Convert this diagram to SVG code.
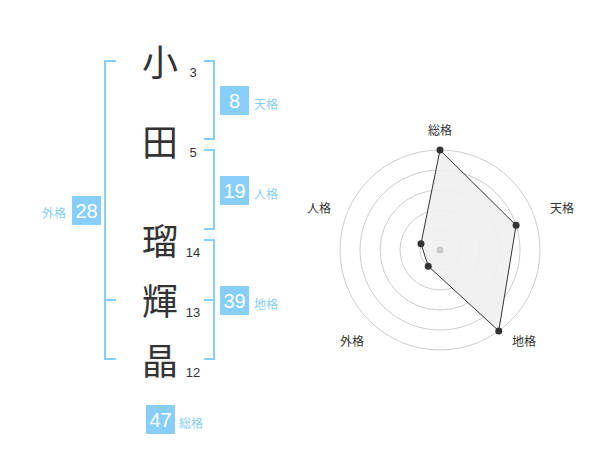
<svg xmlns="http://www.w3.org/2000/svg" width="600" height="470" viewBox="0 0 600 470">
<style>
.ch{font-family:"Noto Sans CJK JP","Noto Sans CJK SC",sans-serif;font-size:36px;fill:#333;text-anchor:middle}
.num{font-family:"Liberation Sans",Arial,sans-serif;font-size:13px;fill:#333;text-anchor:middle}
.br{fill:none;stroke:#87CEFA;stroke-width:2}
.box{fill:#87CEFA}
.bn{font-family:"Liberation Sans",Arial,sans-serif;font-size:20px;fill:#fff;text-anchor:middle}
.lb{font-family:"Noto Sans CJK JP","Noto Sans CJK SC",sans-serif;font-size:12px;fill:#87CEFA}
.rl{font-family:"Noto Sans CJK JP","Noto Sans CJK SC",sans-serif;font-size:12px;fill:#333;text-anchor:middle}
.ring{fill:none;stroke:#ccc;stroke-width:1}
.dot{fill:#333}
</style>
<rect width="600" height="470" fill="#fff"/>
<g id="chars">
<g id="c1"><text class="ch" x="160" y="76">小</text><text class="num" x="193" y="77">3</text></g>
<g id="c2"><text class="ch" x="160" y="156">田</text><text class="num" x="193" y="157">5</text></g>
<g id="c3"><text class="ch" x="160" y="255">瑠</text><text class="num" x="193" y="257">14</text></g>
<g id="c4"><text class="ch" x="160" y="315">輝</text><text class="num" x="193" y="317">13</text></g>
<g id="c5"><text class="ch" x="160" y="375">晶</text><text class="num" x="193" y="377">12</text></g>
</g>
<g id="connectors">
<path class="br" d="M116,61 H105 V359 H116 M105,300 H116"/>
<path class="br" d="M204,61 H214 V139 H204"/>
<path class="br" d="M204,150 H214 V229 H204"/>
<path class="br" d="M204,240 H214 V359 H204 M214,300 H204"/>
</g>
<g id="tenkaku"><rect class="box" x="220" y="86" width="29" height="29"/><text class="bn" x="234.5" y="108">8</text><text class="lb" x="254" y="109">天格</text></g>
<g id="jinkaku"><rect class="box" x="220" y="176" width="29" height="29"/><text class="bn" x="234.5" y="198">19</text><text class="lb" x="254" y="199">人格</text></g>
<g id="chikaku"><rect class="box" x="220" y="286" width="29" height="29"/><text class="bn" x="234.5" y="308">39</text><text class="lb" x="254" y="309">地格</text></g>
<g id="gaikaku"><rect class="box" x="72" y="196" width="29" height="29"/><text class="bn" x="86.5" y="218">28</text><text class="lb" x="66" y="218" text-anchor="end">外格</text></g>
<g id="soukaku"><rect class="box" x="146" y="405" width="29" height="29"/><text class="bn" x="160.5" y="427">47</text><text class="lb" x="179" y="428">総格</text></g>
<g id="radar">
<circle class="ring" cx="440" cy="250" r="20"/>
<circle class="ring" cx="440" cy="250" r="40"/>
<circle class="ring" cx="440" cy="250" r="60"/>
<circle class="ring" cx="440" cy="250" r="80"/>
<circle class="ring" cx="440" cy="250" r="100"/>
<polygon points="440,150 516.08,225.28 498.78,330.9 428.24,266.18 420.98,243.82" fill="#efefef" fill-opacity="0.9" stroke="#333" stroke-width="1"/>
<circle cx="440" cy="250" r="3.5" fill="#ccc"/>
<circle class="dot" cx="440" cy="150" r="3.5"/>
<circle class="dot" cx="516.08" cy="225.28" r="3.5"/>
<circle class="dot" cx="498.78" cy="330.9" r="3.5"/>
<circle class="dot" cx="428.24" cy="266.18" r="3.5"/>
<circle class="dot" cx="420.98" cy="243.82" r="3.5"/>
<text class="rl" x="440" y="135">総格</text>
<text class="rl" x="562" y="213">天格</text>
<text class="rl" x="524" y="346">地格</text>
<text class="rl" x="352" y="346">外格</text>
<text class="rl" x="319" y="213">人格</text>
</g>
</svg>
